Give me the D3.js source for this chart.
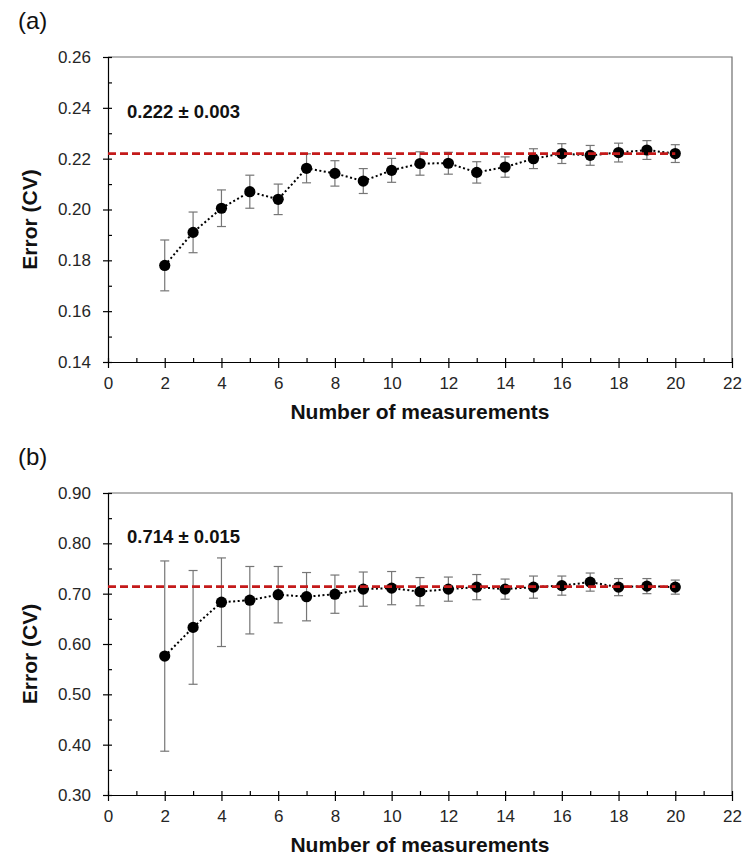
<!DOCTYPE html>
<html>
<head>
<meta charset="utf-8">
<script src="https://cdn.jsdelivr.net/npm/d3@7"></script>
<style>
  body { margin: 0; background: #fff; }
  svg { display: block; font-family: "Liberation Sans", Arial, sans-serif; }
  .tick text { fill: #262626; font-size: 17px; }
</style>
</head>
<body>
<svg width="745" height="861"></svg>
<script>
var svg = d3.select('svg');

// number of measurements (x values, same for both panels)
var measurements = [2, 3, 4, 5, 6, 7, 8, 9, 10, 11, 12, 13, 14, 15, 16, 17, 18, 19, 20];

// panel (a)
var errorA = [0.178, 0.191, 0.2005, 0.207, 0.204, 0.2162, 0.2142, 0.2112, 0.2154, 0.2181,
              0.2182, 0.2146, 0.2167, 0.2200, 0.2220, 0.2213, 0.2224, 0.2234, 0.2220];
var sdA = [0.0100, 0.0080, 0.0072, 0.0065, 0.0060, 0.0057, 0.0050, 0.0049, 0.0047, 0.0046,
           0.0043, 0.0042, 0.0040, 0.0039, 0.0039, 0.0039, 0.0037, 0.0037, 0.0035];
var meanA = 0.222;
var meanLabelA = '0.222 \u00b1 0.003';
var yTicksA = [0.14, 0.16, 0.18, 0.20, 0.22, 0.24, 0.26];

// panel (b)
var errorB = [0.576, 0.633, 0.683, 0.687, 0.698, 0.694, 0.699, 0.709, 0.711, 0.704,
              0.709, 0.713, 0.709, 0.713, 0.716, 0.723, 0.713, 0.715, 0.713];
var sdB = [0.189, 0.113, 0.088, 0.067, 0.056, 0.048, 0.038, 0.034, 0.033, 0.028,
           0.024, 0.025, 0.020, 0.022, 0.019, 0.018, 0.017, 0.015, 0.014];
var meanB = 0.714;
var meanLabelB = '0.714 \u00b1 0.015';
var yTicksB = [0.30, 0.40, 0.50, 0.60, 0.70, 0.80, 0.90];

var xTicks = [0, 2, 4, 6, 8, 10, 12, 14, 16, 18, 20, 22];
var xMinorTicks = [1, 3, 5, 7, 9, 11, 13, 15, 17, 19, 21];

var plotLeft = 108, plotRight = 732;

var xScale = d3.scaleLinear().domain([0, 22]).range([plotLeft, plotRight]);

function drawPanel(panel) {
    var g = svg.append('g');
    var yScale = d3.scaleLinear()
        .domain([panel.yTicks[0], panel.yTicks[panel.yTicks.length - 1]])
        .range([panel.bottom, panel.top]);

    var minorY = [];
    for (var i = 0; i < panel.yTicks.length - 1; i++) {
        minorY.push((panel.yTicks[i] + panel.yTicks[i + 1]) / 2);
    }

    // frame (top and right)
    g.append('path')
        .attr('d', 'M' + plotLeft + ',' + panel.top + 'H' + plotRight + 'V' + panel.bottom)
        .attr('fill', 'none')
        .attr('stroke', '#6e6e6e')
        .attr('stroke-width', 1.2);

    // y axis
    var yAxisG = g.append('g')
        .attr('transform', 'translate(' + plotLeft + ',0)')
        .call(d3.axisLeft(yScale).tickValues(panel.yTicks).tickSize(5).tickSizeOuter(0)
            .tickPadding(12).tickFormat(d3.format('.2f')));
    yAxisG.selectAll('.tick line').attr('x1', 4);
    g.append('g')
        .attr('transform', 'translate(' + plotLeft + ',0)')
        .call(d3.axisRight(yScale).tickValues(minorY).tickSize(4).tickFormat(''))
        .select('.domain').remove();

    // x axis
    var xAxisG = g.append('g')
        .attr('transform', 'translate(0,' + panel.bottom + ')')
        .call(d3.axisBottom(xScale).tickValues(xTicks).tickSize(6).tickSizeOuter(0).tickPadding(9));
    xAxisG.selectAll('.tick line').attr('y1', -4);
    g.append('g')
        .attr('transform', 'translate(0,' + panel.bottom + ')')
        .call(d3.axisTop(xScale).tickValues(xMinorTicks).tickSize(4).tickFormat(''))
        .select('.domain').remove();

    g.selectAll('.domain, .tick line').attr('stroke', '#000').attr('stroke-width', 1.2);

    // error bars
    var bars = g.selectAll('.ebar')
        .data(measurements)
        .enter()
        .append('g')
        .attr('class', 'ebar')
        .attr('stroke', '#767676')
        .attr('stroke-width', 1.2);
    bars.append('line')
        .attr('x1', function(d) { return xScale(d); })
        .attr('x2', function(d) { return xScale(d); })
        .attr('y1', function(d, i) { return yScale(panel.values[i] + panel.sd[i]); })
        .attr('y2', function(d, i) { return yScale(panel.values[i] - panel.sd[i]); });
    [1, -1].forEach(function(sign) {
        bars.append('line')
            .attr('x1', function(d) { return xScale(d) - 4.5; })
            .attr('x2', function(d) { return xScale(d) + 4.5; })
            .attr('y1', function(d, i) { return yScale(panel.values[i] + sign * panel.sd[i]); })
            .attr('y2', function(d, i) { return yScale(panel.values[i] + sign * panel.sd[i]); });
    });

    // dotted connecting line
    var line = d3.line()
        .x(function(d) { return xScale(d); })
        .y(function(d, i) { return yScale(panel.values[i]); });
    g.append('path')
        .datum(measurements)
        .attr('d', line)
        .attr('fill', 'none')
        .attr('stroke', '#000')
        .attr('stroke-width', 2)
        .attr('stroke-dasharray', '2,2.5');

    g.selectAll('.dot')
        .data(measurements)
        .enter()
        .append('circle')
        .attr('class', 'dot')
        .attr('cx', function(d) { return xScale(d); })
        .attr('cy', function(d, i) { return yScale(panel.values[i]); })
        .attr('r', 5.6)
        .attr('fill', '#000');

    // mean line
    g.append('line')
        .attr('x1', xScale(0))
        .attr('x2', xScale(20))
        .attr('y1', yScale(panel.mean))
        .attr('y2', yScale(panel.mean))
        .attr('stroke', '#c41a1a')
        .attr('stroke-width', 2.6)
        .attr('stroke-dasharray', '8,4');

    g.append('text')
        .attr('x', 127)
        .attr('y', panel.meanLabelY)
        .attr('font-size', 18.5)
        .attr('font-weight', 'bold')
        .attr('fill', '#111')
        .text(panel.meanLabel);

    g.append('text')
        .attr('x', 18)
        .attr('y', panel.top - 28.5)
        .attr('font-size', 24)
        .attr('fill', '#111')
        .text(panel.tag);

    g.append('text')
        .attr('transform', 'translate(' + [37, (panel.top + panel.bottom) / 2 + 10] + ')rotate(-90)')
        .attr('text-anchor', 'middle')
        .attr('font-size', 21)
        .attr('font-weight', 'bold')
        .attr('fill', '#111')
        .text('Error (CV)');

    g.append('text')
        .attr('x', (plotLeft + plotRight) / 2)
        .attr('y', panel.bottom + 57)
        .attr('text-anchor', 'middle')
        .attr('font-size', 21)
        .attr('font-weight', 'bold')
        .attr('fill', '#111')
        .text('Number of measurements');
}

drawPanel({tag: '(a)', top: 57, bottom: 362, yTicks: yTicksA, values: errorA, sd: sdA,
           mean: meanA, meanLabel: meanLabelA, meanLabelY: 118});
drawPanel({tag: '(b)', top: 493, bottom: 795, yTicks: yTicksB, values: errorB, sd: sdB,
           mean: meanB, meanLabel: meanLabelB, meanLabelY: 543});
</script>
</body>
</html>
